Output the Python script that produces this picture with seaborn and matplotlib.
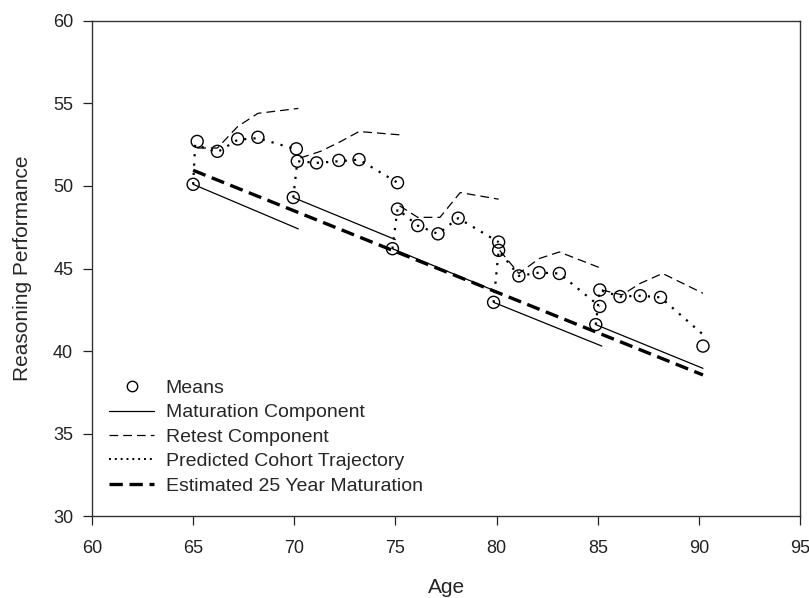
import pandas as pd
import seaborn as sns
import matplotlib.pyplot as plt
from matplotlib.lines import Line2D

# observed means
means_age = [65.0, 65.2, 66.2, 67.2, 68.2, 69.95, 70.15, 70.1, 71.1, 72.2, 73.2,
             74.85, 75.1, 75.1, 76.1, 77.1, 78.1, 79.85, 80.1, 80.1, 81.1, 82.1, 83.1,
             84.9, 85.1, 85.1, 86.1, 87.1, 88.1, 90.2]
means_val = [50.1, 52.7, 52.1, 52.85, 52.95, 49.3, 51.5, 52.25, 51.4, 51.55, 51.6,
             46.2, 48.6, 50.2, 47.6, 47.1, 48.05, 42.95, 46.1, 46.6, 44.55, 44.75, 44.7,
             41.6, 42.7, 43.7, 43.3, 43.35, 43.25, 40.3]

# maturation component, one segment per cohort
mat_age = [[65.0, 70.2], [69.95, 75.0], [74.85, 80.0], [79.85, 85.2], [84.9, 90.2]]
mat_val = [[50.1, 47.4], [49.3, 46.75], [46.2, 43.6], [42.95, 40.3], [41.6, 38.95]]

# retest component
ret_age = [[65.2, 66.2, 67.2, 68.2, 70.2],
           [70.3, 71.3, 72.3, 73.2, 75.2],
           [75.2, 76.1, 77.2, 78.2, 80.1],
           [80.15, 81.1, 82.1, 83.1, 85.2],
           [85.2, 86.2, 87.1, 88.2, 90.2]]
ret_val = [[52.3, 52.3, 53.6, 54.4, 54.7],
           [51.7, 52.1, 52.7, 53.3, 53.1],
           [48.8, 48.1, 48.1, 49.6, 49.2],
           [46.1, 44.7, 45.6, 46.0, 45.0],
           [43.7, 43.4, 44.1, 44.7, 43.5]]

# predicted cohort trajectory
traj_age = [[65.0, 65.1, 66.2, 67.2, 68.2, 70.15],
            [69.95, 70.15, 71.1, 72.2, 73.2, 75.1],
            [74.85, 75.1, 76.1, 77.1, 78.1, 80.1],
            [79.85, 80.1, 81.1, 82.1, 83.1, 85.1],
            [84.9, 85.1, 86.1, 87.1, 88.1, 90.2]]
traj_val = [[50.1, 52.5, 52.05, 52.8, 52.9, 52.2],
            [49.3, 51.5, 51.4, 51.5, 51.6, 50.2],
            [46.2, 48.6, 47.6, 47.1, 48.05, 46.6],
            [42.95, 46.1, 44.55, 44.75, 44.7, 42.7],
            [41.6, 43.7, 43.3, 43.35, 43.25, 41.0]]

# estimated 25 year maturation
est_age = [65.0, 90.2]
est_val = [50.95, 38.55]

sns.set_style("ticks")
plt.rcParams['font.family'] = ['Liberation Sans', 'DejaVu Sans']

fig = plt.figure(figsize=(8.09, 5.98), dpi=100)
ax = fig.add_axes([0.1137, 0.137, 0.8753, 0.828])

dot_ls = (0, (1, 3.2))
dash_ls = (0, (7, 4))
thick_ls = (0, (4, 2))

for xs, ys in zip(mat_age, mat_val):
    sns.lineplot(x=xs, y=ys, ax=ax, color='black', lw=0.9, sort=False, estimator=None)
for xs, ys in zip(ret_age, ret_val):
    sns.lineplot(x=xs, y=ys, ax=ax, color='black', lw=0.9, linestyle=dash_ls,
                 sort=False, estimator=None)
for xs, ys in zip(traj_age, traj_val):
    sns.lineplot(x=xs, y=ys, ax=ax, color='black', lw=1.6, linestyle=dot_ls,
                 sort=False, estimator=None)
sns.lineplot(x=est_age, y=est_val, ax=ax, color='black', lw=2.4, linestyle=thick_ls,
             sort=False, estimator=None)

means = pd.DataFrame({'age': means_age, 'val': means_val})
sns.scatterplot(data=means, x='age', y='val', ax=ax, s=75, facecolor='none',
                edgecolor='black', linewidth=1.0, zorder=5)

ax.set_xlim(60, 95)
ax.set_ylim(30, 60)
ax.set_xticks(range(60, 96, 5))
ax.set_yticks(range(30, 61, 5))
ax.tick_params(direction='out', length=6.5, width=0.9, labelsize=13, colors='#222222')
ax.tick_params(axis='y', pad=7)
ax.tick_params(axis='x', pad=11)
for sp in ax.spines.values():
    sp.set_linewidth(1.0)
    sp.set_color('#333333')
ax.set_xlabel('Age', fontsize=15, labelpad=15)
ax.set_ylabel('Reasoning Performance', fontsize=15, labelpad=15)

handles = [
    Line2D([], [], ls='none', marker='o', markersize=7.5, markerfacecolor='none',
           markeredgecolor='black', markeredgewidth=1.0),
    Line2D([], [], color='black', lw=0.9),
    Line2D([], [], color='black', lw=0.9, ls=dash_ls),
    Line2D([], [], color='black', lw=1.4, ls=(0, (1, 2))),
    Line2D([], [], color='black', lw=2.4, ls=thick_ls),
]
labels = ['Means', 'Maturation Component', 'Retest Component',
          'Predicted Cohort Trajectory', 'Estimated 25 Year Maturation']
ax.legend(handles, labels, loc='lower left', bbox_to_anchor=(0.0, 0.008),
          frameon=False, fontsize=14, handlelength=2.3, handletextpad=0.6,
          labelspacing=0.35)

fig.savefig('out.png', dpi=100)
